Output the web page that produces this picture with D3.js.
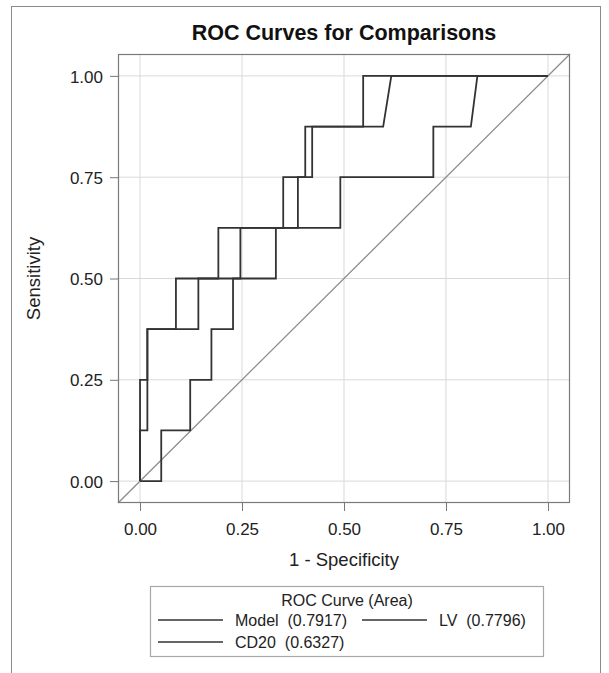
<!DOCTYPE html>
<html><head><meta charset="utf-8">
<script src="https://cdn.jsdelivr.net/npm/d3@7"></script>
<style>
html,body{margin:0;padding:0;background:#fff;}
svg{display:block;font-family:"Liberation Sans",Arial,sans-serif;}
text{white-space:pre;}
</style></head>
<body><svg id="chart" width="609" height="673"></svg>
<script>
// ---- data ----
const tickValues = [0, 0.25, 0.5, 0.75, 1];
const tickLabels = ["0.00", "0.25", "0.50", "0.75", "1.00"];
const seriesNames = ["Model", "LV", "CD20"];
const seriesAreas = ["0.7917", "0.7796", "0.6327"];
const modelFpr = [0, 0, 0.018, 0.018, 0.088, 0.088, 0.192, 0.192, 0.387, 0.387, 0.422, 0.422, 0.547, 0.547, 1];
const modelTpr = [0, 0.125, 0.125, 0.375, 0.375, 0.5, 0.5, 0.625, 0.625, 0.75, 0.75, 0.875, 0.875, 1, 1];
const lvFpr = [0, 0, 0.018, 0.018, 0.143, 0.143, 0.246, 0.246, 0.351, 0.351, 0.405, 0.405, 0.596, 0.616, 1];
const lvTpr = [0, 0.25, 0.25, 0.375, 0.375, 0.5, 0.5, 0.625, 0.625, 0.75, 0.75, 0.875, 0.875, 1, 1];
const cd20Fpr = [0, 0.052, 0.052, 0.123, 0.123, 0.175, 0.175, 0.228, 0.228, 0.333, 0.333, 0.491, 0.491, 0.719, 0.719, 0.811, 0.827, 1];
const cd20Tpr = [0, 0, 0.125, 0.125, 0.25, 0.25, 0.375, 0.375, 0.5, 0.5, 0.625, 0.625, 0.75, 0.75, 0.875, 0.875, 1, 1];
const refLine = [-0.054, 1.054];

const svg = d3.select("#chart");
const L = 118, R = 570, T = 54, B = 503;
const x = d3.scaleLinear().domain([-0.054, 1.054]).range([L, R]);
const y = d3.scaleLinear().domain([-0.054, 1.054]).range([B, T]);

// outer border
svg.append("rect").attr("x", 11.5).attr("y", 6.5).attr("width", 589).attr("height", 700)
  .attr("fill", "none").attr("stroke", "#8a8a8a").attr("stroke-width", 1);

// title
svg.append("text").attr("x", (L + R) / 2).attr("y", 40).attr("text-anchor", "middle")
  .attr("font-size", 21.5).attr("font-weight", "bold").attr("fill", "#111")
  .text("ROC Curves for Comparisons");

// grid
const g = svg.append("g");
g.selectAll(".gx").data(tickValues).join("line")
  .attr("x1", d => x(d)).attr("x2", d => x(d)).attr("y1", T).attr("y2", B)
  .attr("stroke", "#d9d9d9").attr("stroke-width", 1);
g.selectAll(".gy").data(tickValues).join("line")
  .attr("y1", d => y(d)).attr("y2", d => y(d)).attr("x1", L).attr("x2", R)
  .attr("stroke", "#d9d9d9").attr("stroke-width", 1);

// axes
const xAxis = d3.axisBottom(x).tickValues(tickValues).tickFormat((d, i) => tickLabels[i]).tickSize(8).tickSizeOuter(0);
const yAxis = d3.axisLeft(y).tickValues(tickValues).tickFormat((d, i) => tickLabels[i]).tickSize(8).tickSizeOuter(0);
const gx = svg.append("g").attr("transform", `translate(0,${B})`).call(xAxis);
const gy = svg.append("g").attr("transform", `translate(${L},0)`).call(yAxis);
[gx, gy].forEach(a => {
  a.select(".domain").remove();
  a.selectAll(".tick line").attr("stroke", "#777");
  a.selectAll(".tick text").attr("font-size", 17).attr("fill", "#222")
    .attr("font-family", "'Liberation Sans',Arial,sans-serif");
});
gx.selectAll(".tick text").attr("dy", null).attr("y", 32);
gy.selectAll(".tick text").attr("x", -15).attr("dy", "0.36em");

// axis titles
svg.append("text").attr("x", (L + R) / 2).attr("y", 566).attr("text-anchor", "middle")
  .attr("font-size", 18.5).attr("fill", "#222").text("1 - Specificity");
svg.append("text").attr("transform", `translate(40,${(T + B) / 2}) rotate(-90)`).attr("text-anchor", "middle")
  .attr("font-size", 18.5).attr("fill", "#222").text("Sensitivity");

// reference line
svg.append("line").attr("x1", x(refLine[0])).attr("y1", y(refLine[0]))
  .attr("x2", x(refLine[1])).attr("y2", y(refLine[1]))
  .attr("stroke", "#8c8c8c").attr("stroke-width", 1.3);

// curves
const line = d3.line().x(d => x(d[0])).y(d => y(d[1]));
const curves = [d3.zip(modelFpr, modelTpr), d3.zip(lvFpr, lvTpr), d3.zip(cd20Fpr, cd20Tpr)];
svg.selectAll(".curve").data(curves).join("path")
  .attr("d", line).attr("fill", "none").attr("stroke", "#333").attr("stroke-width", 1.8)
  .attr("stroke-linejoin", "miter");

// frame
svg.append("rect").attr("x", L + 0.5).attr("y", T + 0.5).attr("width", R - L - 1).attr("height", B - T - 1)
  .attr("fill", "none").attr("stroke", "#7a7a7a").attr("stroke-width", 1.2);

// legend
const lg = svg.append("g");
lg.append("rect").attr("x", 150.5).attr("y", 586.5).attr("width", 393).attr("height", 70)
  .attr("fill", "#fff").attr("stroke", "#a8a8a8").attr("stroke-width", 1.2);
lg.append("text").attr("x", 347).attr("y", 606).attr("text-anchor", "middle")
  .attr("font-size", 16).attr("fill", "#222").text("ROC Curve (Area)");
const legPos = [[158, 620], [362, 620], [158, 642]];
seriesNames.forEach((n, i) => {
  const [lx, ly] = legPos[i];
  lg.append("line").attr("x1", lx).attr("x2", lx + 65).attr("y1", ly).attr("y2", ly)
    .attr("stroke", "#333").attr("stroke-width", 1.5);
  lg.append("text").attr("x", lx + 77).attr("y", ly + 6).attr("font-size", 16).attr("fill", "#222")
    .text(n + "  (" + seriesAreas[i] + ")");
});
</script></body></html>
